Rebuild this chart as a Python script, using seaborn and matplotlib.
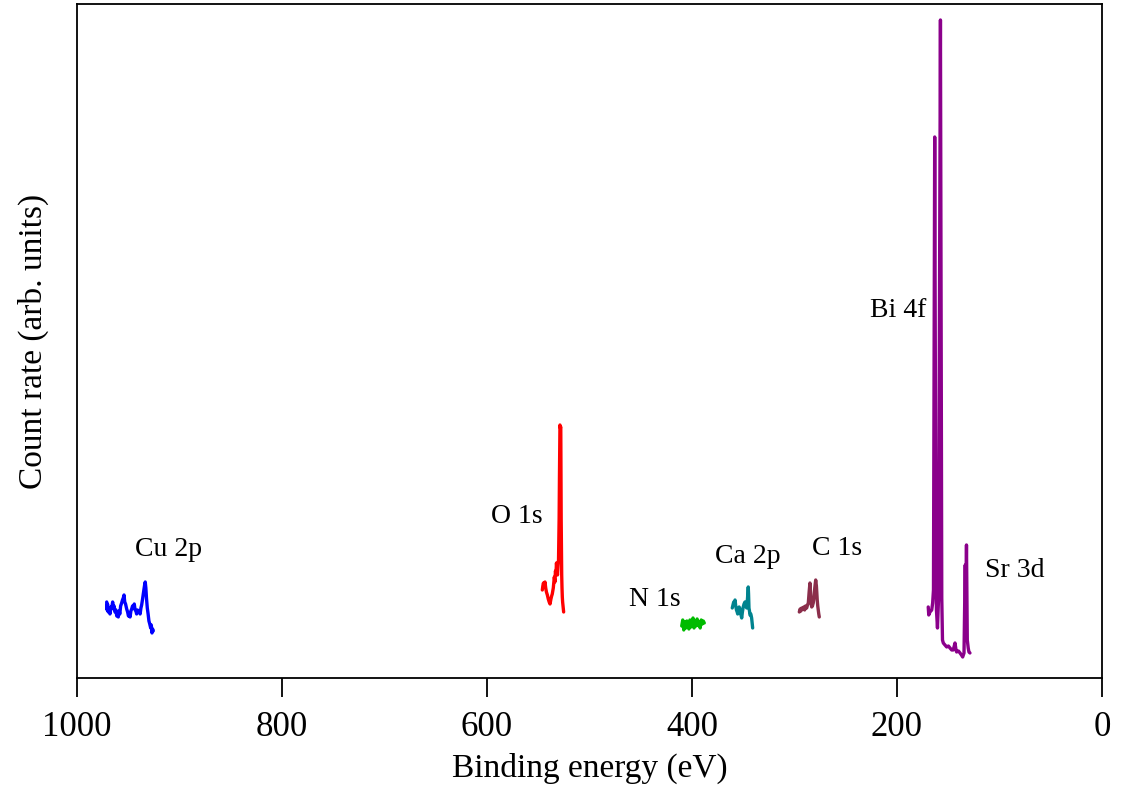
"""
XPS survey spectrum of a Bi-Sr-Ca-Cu-O film, redrawn with seaborn.
"""
import pandas as pd
import matplotlib
matplotlib.use("Agg")
import matplotlib.pyplot as plt
import seaborn as sns

# === DATA (binding energy in eV, count rate in arb. units) ===
cu_energy = [971.0, 970.6, 970.2, 969.5, 968.8, 967.8, 967.0, 966.2, 965.2, 964.5, 963.8,
             962.9, 962.0, 961.2, 960.4, 959.7, 959.0, 958.2, 957.4, 956.4, 955.6, 954.8,
             954.1, 953.4, 952.6, 951.5, 950.6, 949.8, 949.0, 948.2, 947.4, 946.6, 945.8,
             945.0, 944.1, 943.3, 942.5, 941.8, 941.0, 940.2, 939.2, 938.4, 937.6, 936.9,
             936.0, 935.3, 934.6, 934.0, 933.4, 932.8, 932.2, 931.4, 930.6, 929.8, 929.0,
             928.1, 927.5, 926.8, 926.2, 925.6]
cu_counts = [76, 68, 74, 66, 70, 64, 71, 69, 76, 70, 72,
             66, 68, 62, 66, 61, 67, 64, 72, 75, 78, 80,
             83, 76, 74, 69, 66, 62, 64, 61, 67, 69, 72,
             70, 74, 68, 67, 64, 68, 66, 67, 64, 70, 73,
             79, 84, 89, 93, 96, 90, 80, 70, 64, 57, 54,
             50, 53, 45, 49, 47]

o_energy = [546.0, 545.5, 544.9, 544.2, 543.4, 542.7, 542.0, 541.1, 540.2, 539.3, 538.5,
            537.6, 536.9, 536.3, 535.3, 534.3, 533.7, 533.2, 532.7, 532.2, 531.7, 531.2,
            530.7, 530.2, 529.6, 529.3, 528.8, 528.4, 528.0, 527.6, 527.1, 526.8, 526.5,
            526.2, 525.9, 525.5, 525.2]
o_counts = [88, 92, 95, 91, 96, 90, 86, 83, 79, 76, 74,
            79, 82, 84, 90, 101, 96, 107, 104, 115, 108, 103,
            112, 118, 160, 200, 253, 250, 251, 158, 103, 90, 81,
            76, 73, 69, 66]

n_energy = [410, 409, 408, 407, 406, 405, 404, 403, 402, 401, 400, 399,
            398, 397, 396, 395, 394, 393, 392, 391, 390, 389, 388]
n_counts = [52, 58, 48, 56, 50, 57, 53, 49, 58, 51, 55, 60,
            50, 57, 52, 59, 53, 56, 50, 58, 54, 57, 55]

ca_energy = [360.7, 360.0, 359.3, 358.6, 358.0, 357.3, 356.6, 355.9, 355.4, 354.7, 354.0,
             353.2, 352.4, 351.5, 350.8, 350.0, 349.2, 348.3, 347.5, 346.6, 345.8, 345.1,
             344.8, 344.4, 343.9, 343.4, 342.6, 341.8, 341.3, 340.8]
ca_counts = [70, 73, 76, 74, 78, 72, 68, 66, 64, 68, 71,
             69, 64, 60, 66, 71, 74, 76, 72, 70, 80, 91,
             84, 70, 67, 63, 64, 60, 55, 50]

c_energy = [295.3, 294.5, 293.7, 292.9, 291.7, 290.9, 290.1, 289.2, 288.1, 287.3, 286.5,
            285.7, 284.9, 284.3, 283.7, 283.2, 282.5, 281.7, 281.0, 280.2, 279.3, 278.6,
            277.8, 277.3, 276.8, 276.3, 275.8]
c_counts = [66, 69, 67, 70, 69, 71, 68, 72, 70, 73, 75,
            86, 95, 85, 74, 71, 72, 75, 80, 90, 98, 92,
            78, 72, 68, 64, 61]

bi_energy = [169.5, 169.0, 167.8, 166.1, 165.2, 164.4, 163.2, 162.0, 161.5, 160.5, 159.5,
             157.6, 156.3, 155.6, 154.8, 153.2, 151.5, 149.8, 148.3, 146.6, 145.1, 143.4,
             142.4, 141.8, 140.0, 138.5, 137.1, 135.9, 134.6, 133.9, 133.4, 132.9, 132.2,
             131.4, 130.5, 129.8, 128.8]
bi_counts = [71, 63, 66, 68, 75, 88, 541, 100, 68, 50, 78,
             658, 80, 38, 35, 33, 31, 32, 30, 28, 28, 35,
             28, 26, 27, 25, 23, 21, 25, 78, 113, 68, 133,
             38, 30, 26, 25]

SERIES = [
    ("Cu 2p", cu_energy, cu_counts, "#0000FF"),
    ("O 1s", o_energy, o_counts, "#FF0000"),
    ("N 1s", n_energy, n_counts, "#00BB00"),
    ("Ca 2p", ca_energy, ca_counts, "#00838F"),
    ("C 1s", c_energy, c_counts, "#8B2E4B"),
    ("Bi 4f", bi_energy, bi_counts, "#8B008B"),
]

# peak labels: (text, energy, counts)
LABELS = [
    ("Cu 2p", 911, 128),
    ("O 1s", 571, 161),
    ("N 1s", 436, 78),
    ("Ca 2p", 346, 121),
    ("C 1s", 258, 129),
    ("Bi 4f", 199, 367),
    ("Sr 3d", 85, 107),
]


def main():
    sns.set_style("ticks")
    plt.rcParams["font.family"] = ["Liberation Serif", "DejaVu Serif"]
    plt.rcParams["text.color"] = "black"
    plt.rcParams["axes.labelcolor"] = "black"
    plt.rcParams["xtick.color"] = "black"

    frames = []
    for name, e, c, _ in SERIES:
        frames.append(pd.DataFrame({"energy": e, "counts": c, "line": name}))
    df = pd.concat(frames, ignore_index=True)
    palette = {name: col for name, _, _, col in SERIES}

    fig = plt.figure(figsize=(11.27, 7.98), dpi=100)
    ax = fig.add_axes([0.0683, 0.1504, 0.9095, 0.8446])

    sns.lineplot(data=df, x="energy", y="counts", hue="line", palette=palette,
                 estimator=None, sort=False, linewidth=2.4, legend=False, ax=ax)

    for text, e, c in LABELS:
        ax.text(e, c, text, fontsize=20, ha="center", va="center", color="black")

    ax.set_xlim(1000, 0)
    ax.set_ylim(0, 674)
    ax.set_xticks([1000, 800, 600, 400, 200, 0])
    ax.set_yticks([])
    ax.tick_params(axis="x", direction="out", length=14, width=1.3, labelsize=25,
                   pad=10, colors="black")
    for s in ax.spines.values():
        s.set_linewidth(1.3)
        s.set_color("black")

    ax.set_xlabel("Binding energy (eV)", fontsize=24, labelpad=6)
    ax.set_ylabel("Count rate (arb. units)", fontsize=24, labelpad=20)

    fig.savefig("out.png", dpi=100)
    plt.close(fig)


if __name__ == "__main__":
    main()
